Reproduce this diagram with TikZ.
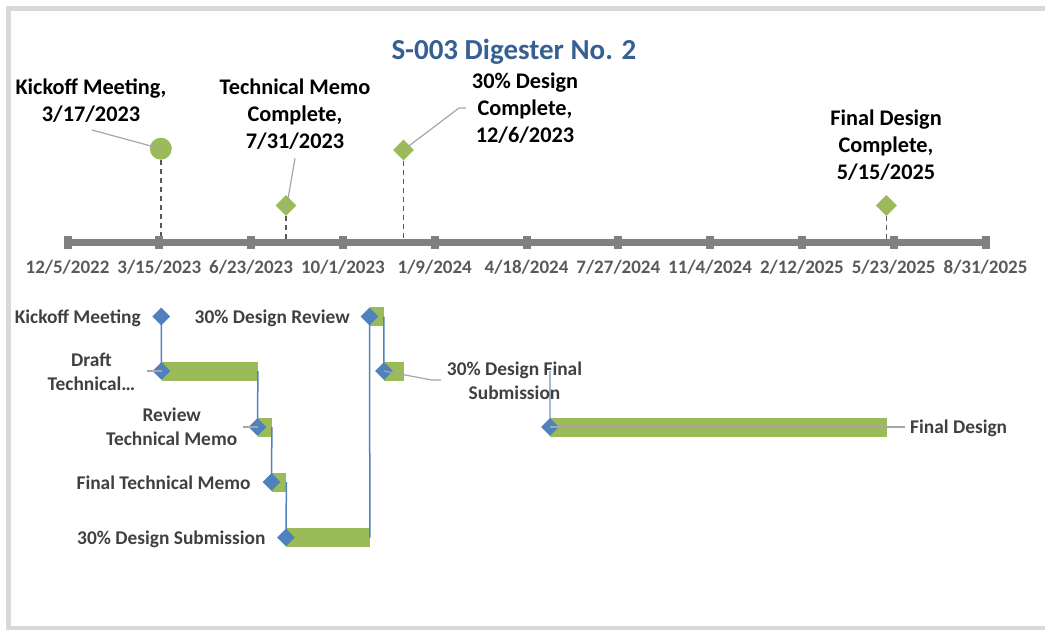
\documentclass[tikz,border=0pt]{standalone}
\usepackage{fontspec}
\setmainfont{Carlito}
\usetikzlibrary{shapes.geometric}
\definecolor{gbar}{HTML}{9BBB59}
\definecolor{bdia}{HTML}{4F81BD}
\definecolor{axisc}{HTML}{808080}
\definecolor{titlec}{HTML}{376092}
\definecolor{framec}{HTML}{D9D9D9}
\definecolor{lblc}{HTML}{404040}
\definecolor{axlbl}{HTML}{595959}
\definecolor{leadc}{HTML}{A6A6A6}
\definecolor{dashc}{HTML}{595959}
\tikzset{
  toplbl/.style={font=\fontsize{22.3}{27}\selectfont\bfseries, text=black, align=center, inner sep=0pt, anchor=base},
  axlabel/.style={font=\fontsize{19}{23}\selectfont\bfseries, text=axlbl, inner sep=0pt, anchor=base},
  glbl/.style={font=\fontsize{19.4}{23.4}\selectfont\bfseries, text=lblc, inner sep=0pt, align=center},
  gmile/.style={diamond, fill=gbar, minimum width=21pt, minimum height=21pt, inner sep=0pt},
  bmile/.style={diamond, fill=bdia, minimum width=18pt, minimum height=18pt, inner sep=0pt},
  tickbox/.style={rectangle, fill=axisc, minimum width=8pt, minimum height=13pt, inner sep=0pt},
  gbarbox/.style={rectangle, fill=gbar, minimum height=19pt, inner sep=0pt, anchor=west},
  dropline/.style={dashc, dashed, dash pattern=on 5pt off 4pt, line width=1.5pt},
  leader/.style={leadc, line width=1.2pt},
  link/.style={bdia, line width=1.5pt},
}
\begin{document}
\begin{tikzpicture}[x=1pt,y=-1pt]
\useasboundingbox (0,0) rectangle (1045,632);
% frame
\draw[framec, line width=4.5pt] (1046,8.3) -- (8.3,8.3) -- (8.3,628) -- (1046,628);
% title
\node[font=\fontsize{29}{35}\selectfont\bfseries, text=titlec, anchor=base, inner sep=0pt] (title) at (514,59) {S-003 Digester No. 2};

% axis ticks and labels
\foreach \d [count=\i from 0] in {12/5/2022,3/15/2023,6/23/2023,10/1/2023,1/9/2024,4/18/2024,7/27/2024,11/4/2024,2/12/2025,5/23/2025,8/31/2025} {
  \node[axlabel] (al\i) at (67.5+91.8*\i,273) {\d};
}
% milestone dropped lines (under axis)
\node[circle, fill=gbar, minimum size=22pt, inner sep=0pt] (m1) at (160.8,148.7) {};
\node[gmile] (m2) at (286,205.5) {};
\node[gmile] (m3) at (403.5,150) {};
\node[gmile] (m4) at (886.4,205.5) {};
\coordinate (a1) at (160.8,242);
\coordinate (a2) at (286,242);
\coordinate (a3) at (403.5,242);
\coordinate (a4) at (886.4,242);
\draw[dropline] (m1.south) -- (a1);
\draw[dropline] (m2.south) -- (a2);
\draw[dropline] (m3.south) -- (a3);
\draw[dropline] (m4.south) -- (a4);
\foreach \i in {0,...,10} {
  \node[tickbox] (t\i) at (67.5+91.8*\i,242) {};
}
\draw[axisc, line width=7pt] (t0.center) -- (t10.center);
\foreach \i in {0,...,10} {
  \node[tickbox] at (t\i) {};
}

% top labels (anchor base = baseline of last line)
\node[toplbl] (l1) at (91,121) {Kickoff Meeting,\\3/17/2023};
\node[toplbl] (l2) at (295,148) {Technical Memo\\Complete,\\7/31/2023};
\node[toplbl] (l3) at (525,142) {30\% Design\\Complete,\\12/6/2023};
\node[toplbl] (l4) at (886,179) {Final Design\\Complete,\\5/15/2025};
\coordinate (k1) at (92,130);
\coordinate (k2) at (295,158.3);
\coordinate (k3a) at (459,108);
\coordinate (k3b) at (466,108);
\draw[leader] (k1) -- (m1.center);
\draw[leader] (k2) -- ([yshift=-5pt]m2.center);
\draw[leader] (k3b) -- (k3a) -- (m3.center);

% gantt bars
\node[gbarbox, minimum width=96pt] (b2) at (161.5,371) {};
\node[gbarbox, minimum width=14pt] (b3) at (257.5,427) {};
\node[gbarbox, minimum width=14.5pt] (b4) at (271.5,482) {};
\node[gbarbox, minimum width=83.5pt] (b5) at (286,537.5) {};
\node[gbarbox, minimum width=14pt] (b6) at (369.5,316.5) {};
\node[gbarbox, minimum width=20pt] (b7) at (383.5,371) {};
\node[gbarbox, minimum width=336.4pt] (b8) at (550,427) {};

% diamonds (positions)
\coordinate (c1) at (161.3,316.5);
\coordinate (c2) at (161.5,371);
\coordinate (c3) at (257.5,427);
\coordinate (c4) at (271.5,482);
\coordinate (c5) at (286,537.5);
\coordinate (c6) at (369.5,316.5);
\coordinate (c7) at (384,371);
\coordinate (c8) at (550,427);

% links
\draw[link] (c1) -- (c2);
\draw[link] (b2.east) -- (c3);
\draw[link] (b3.east) -- (c4);
\draw[link] (b4.east) -- (c5);
\draw[link] (b5.east) -- (c6);
\draw[link] (b6.east) -- (c7);
\draw[link, opacity=0.55] (c8 |- b7.east) -- (c8);

\node[bmile] (d1) at (c1) {};
\node[bmile] (d2) at (c2) {};
\node[bmile] (d3) at (c3) {};
\node[bmile] (d4) at (c4) {};
\node[bmile] (d5) at (c5) {};
\node[bmile] (d6) at (c6) {};
\node[bmile] (d7) at (c7) {};
\node[bmile] (d8) at (c8) {};

% gantt labels
\node[glbl, anchor=base east] (g1) at (141,323.3) {Kickoff Meeting};
\node[glbl, anchor=base] (g2) at (91.5,390) {Draft\\Technical…};
\node[glbl, anchor=base] (g3) at (171.7,445) {Review\\Technical Memo};
\node[glbl, anchor=base east] (g4) at (250.7,489.3) {Final Technical Memo};
\node[glbl, anchor=base east] (g5) at (265.7,544.3) {30\% Design Submission};
\node[glbl, anchor=base east] (g6) at (350,323.3) {30\% Design Review};
\node[glbl, anchor=base] (g7) at (514.5,399) {30\% Design Final\\Submission};
\node[glbl, anchor=base west] (g8) at (910,433.8) {Final Design};

% label leaders
\coordinate (e2) at (147,371);
\coordinate (e3) at (243,427);
\coordinate (e7a) at (431.7,380);
\coordinate (e7b) at (441,380);
\coordinate (e8) at (905,427);
\draw[leader] (e2) -- (d2.center);
\draw[leader] (e3) -- (d3.center);
\draw[leader] (d7.center) -- (e7a) -- (e7b);
\draw[leader] (d8.center) -- (e8);
\end{tikzpicture}
\end{document}
